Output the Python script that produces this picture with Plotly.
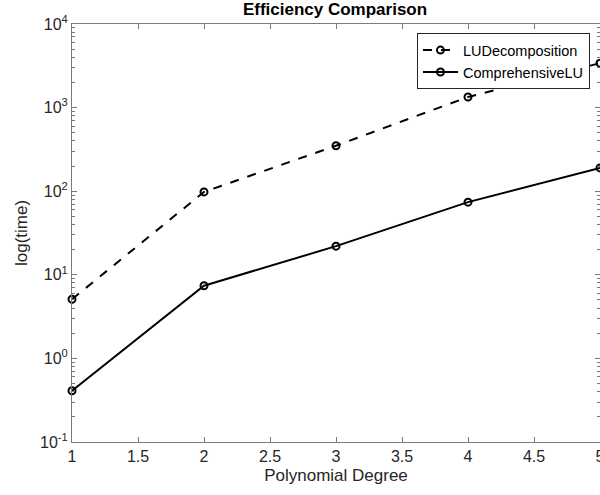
import plotly.graph_objects as go

degrees = [1, 2, 3, 4, 5]
lu_time = [5.1, 98, 350, 1340, 3400]
comp_lu_time = [0.41, 7.4, 22, 74, 190]
y_tickvals = [0.1, 1, 10, 100, 1000, 10000]
y_ticktext = ["10<sup>-1</sup>", "10<sup>0</sup>", "10<sup>1</sup>", "10<sup>2</sup>", "10<sup>3</sup>", "10<sup>4</sup>"]
x_tickvals = [1, 1.5, 2, 2.5, 3, 3.5, 4, 4.5, 5]
x_ticktext = ["1", "1.5", "2", "2.5", "3", "3.5", "4", "4.5", "5"]

fig = go.Figure()
fig.add_trace(go.Scatter(
    x=degrees, y=lu_time, name="LUDecomposition", mode="lines+markers",
    line=dict(color="black", width=2, dash="dash"),
    marker=dict(symbol="circle-open", size=7, color="black", line=dict(width=2)),
    cliponaxis=False,
))
fig.add_trace(go.Scatter(
    x=degrees, y=comp_lu_time, name="ComprehensiveLU", mode="lines+markers",
    line=dict(color="black", width=2),
    marker=dict(symbol="circle-open", size=7, color="black", line=dict(width=2)),
    cliponaxis=False,
))

axis_color = "#7a7a7a"
fig.update_layout(
    width=600, height=495,
    margin=dict(l=72, r=0, t=24, b=53, autoexpand=False),
    paper_bgcolor="white", plot_bgcolor="white",
    font=dict(family="Liberation Sans, Arial, sans-serif", color="#262626", size=16),
    title=dict(text="<b>Efficiency Comparison</b>", x=335 / 600, xref="container",
               y=1 - 3 / 495, yref="container",
               xanchor="center", yanchor="top", font=dict(size=17, color="black")),
    showlegend=True,
    legend=dict(x=0.981, y=0.978, xanchor="right", yanchor="top",
                bordercolor="#262626", borderwidth=1, bgcolor="white",
                font=dict(size=14.5, color="black"), tracegroupgap=0,
                itemwidth=35),
)
fig.update_xaxes(
    range=[1, 5], tickvals=x_tickvals, ticktext=x_ticktext,
    ticks="inside", ticklen=5, tickcolor=axis_color,
    showline=True, linecolor=axis_color, linewidth=1, mirror="ticks",
    showgrid=False, zeroline=False, ticklabeloverflow="allow", automargin=False,
    title=dict(text="Polynomial Degree", font=dict(size=17), standoff=4),
    tickfont=dict(size=16),
)
fig.update_yaxes(
    type="log", range=[-1, 4], tickvals=y_tickvals, ticktext=y_ticktext,
    ticks="inside", ticklen=5, tickcolor=axis_color,
    showline=True, linecolor=axis_color, linewidth=1, mirror="ticks",
    showgrid=False, zeroline=False, automargin=False,
    minor=dict(ticks="inside", ticklen=3, tickcolor=axis_color, dtick="D1", showgrid=False),
    title=dict(text="log(time)", font=dict(size=17), standoff=8),
    tickfont=dict(size=16),
)
fig.write_html("out.html", config={"displayModeBar": False},
               post_script="document.body.style.margin='0';document.body.style.overflow='hidden';")
